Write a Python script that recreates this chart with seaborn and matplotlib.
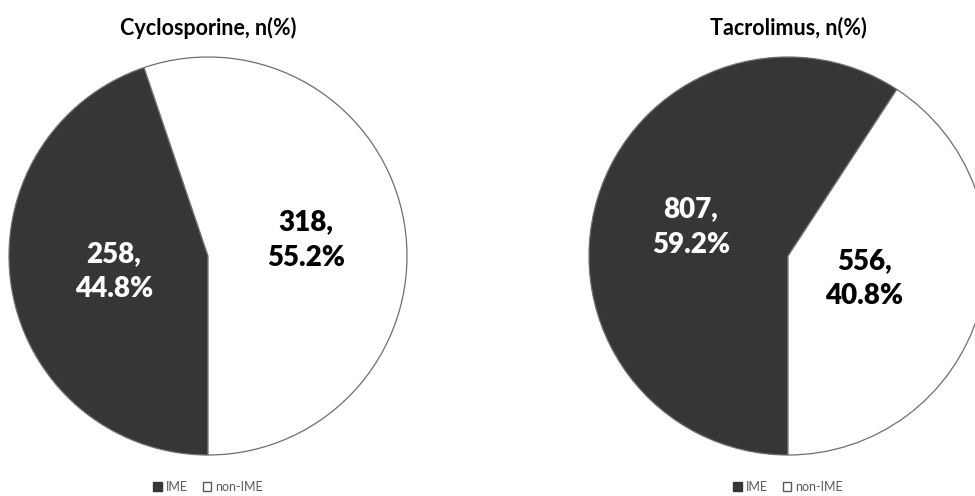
import matplotlib
matplotlib.use("Agg")
import matplotlib.pyplot as plt
import seaborn as sns
from matplotlib.patches import Patch

sns.set_theme(style="white")
plt.rcParams['font.family'] = ['Lato', 'DejaVu Sans']

# ---- data ----
titles = ["Cyclosporine, n(%)", "Tacrolimus, n(%)"]
categories = ["IME", "non-IME"]
counts_cyclo = [258, 318]
pcts_cyclo = [44.8, 55.2]
counts_tacro = [807, 556]
pcts_tacro = [59.2, 40.8]

colors = ["#383635", "#ffffff"]
text_colors = ["white", "black"]
edge = "#6e6e6e"

W, H = 975, 496
fig = plt.figure(figsize=(W / 100, H / 100), dpi=100)

R = 199
panels = [
    dict(cx=208, cy=256, counts=counts_cyclo, pcts=pcts_cyclo, title=titles[0],
         dist=[0.48, 0.50]),
    dict(cx=788, cy=256, counts=counts_tacro, pcts=pcts_tacro, title=titles[1],
         dist=[0.51, 0.40]),
]

for p in panels:
    left = (p["cx"] - R) / W
    bottom = (H - (p["cy"] + R)) / H
    ax = fig.add_axes([left, bottom, 2 * R / W, 2 * R / H])
    labels = [f"{c},\n{v:.1f}%" for c, v in zip(p["counts"], p["pcts"])]
    wedges, texts = ax.pie(p["counts"], colors=colors, startangle=-90, counterclock=False,
                           radius=1, labels=labels, labeldistance=1.0,
                           wedgeprops=dict(edgecolor=edge, linewidth=0.9),
                           textprops=dict(fontsize=20, fontweight="heavy"))
    for t, d, tc in zip(texts, p["dist"], text_colors):
        x, y = t.get_position()
        t.set_position((x * d, y * d))
        t.set_ha("center")
        t.set_va("center")
        t.set_color(tc)
        t.set_linespacing(1.45)
    ax.set_xlim(-1, 1)
    ax.set_ylim(-1, 1)
    ax.set_aspect("equal")
    ax.axis("off")
    fig.text(p["cx"] / W, 1 - 28 / H, p["title"], ha="center", va="center",
             fontsize=15.5, fontweight="bold", color="black")
    handles = [Patch(facecolor=colors[0], edgecolor=colors[0]),
               Patch(facecolor=colors[1], edgecolor="#595959")]
    fig.legend(handles, categories, loc="center", bbox_to_anchor=(p["cx"] / W, 1 - 487 / H),
               ncol=2, frameon=False, fontsize=9, handlelength=0.7, handleheight=0.7,
               handletextpad=0.3, columnspacing=1.2, labelcolor="#595959")

fig.savefig("out.png", dpi=100)
